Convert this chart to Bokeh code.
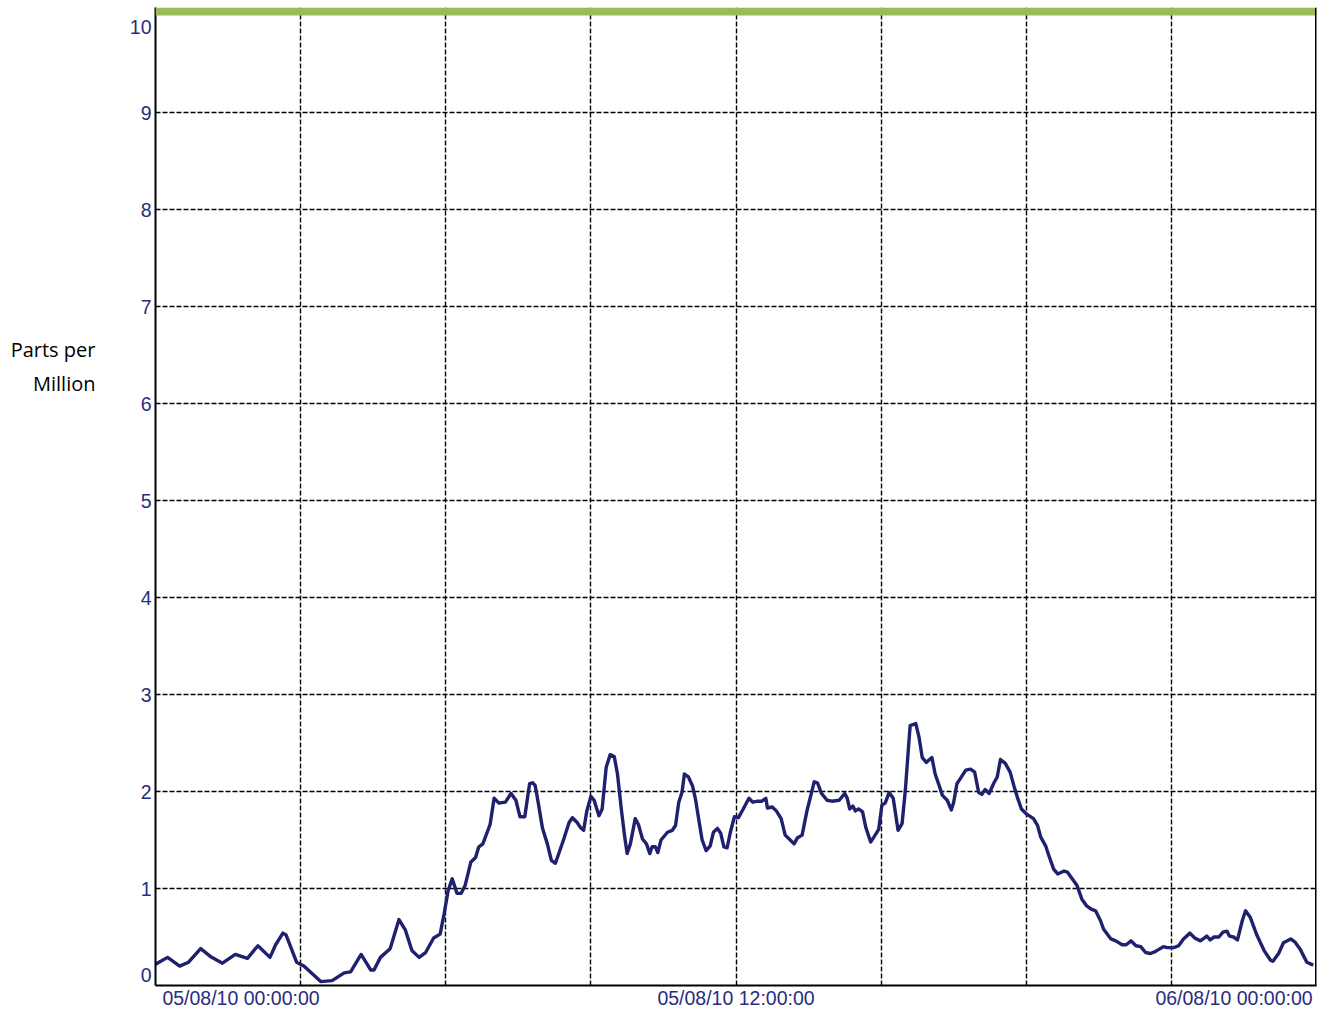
from datetime import datetime, timedelta
from bokeh.plotting import figure
from bokeh.models import (Range1d, FixedTicker, Span, BoxAnnotation, ColumnDataSource,
                          LinearAxis, CustomJSTickFormatter)
from bokeh.embed import file_html
from bokeh.resources import INLINE

# ---- data (minutes after 05/08/10 00:00:00, parts per million) ----
minutes = [
    0, 15, 30, 41, 56, 68, 83, 99, 114, 127,
    142, 149, 158, 162, 175, 184, 205, 219, 234, 242,
    255, 267, 271, 279, 291, 302, 310, 318, 327, 335,
    345, 353, 358, 363, 368, 374, 379, 384, 391, 397,
    401, 406, 415, 420, 426, 434, 441, 447, 452, 458,
    464, 468, 471, 475, 480, 486, 491, 496, 506, 513,
    517, 523, 527, 531, 535, 540, 544, 550, 554, 559,
    564, 569, 573, 578, 582, 585, 589, 595, 599, 604,
    609, 613, 616, 620, 623, 627, 635, 641, 645, 649,
    653, 656, 661, 666, 670, 674, 678, 683, 688, 692,
    697, 701, 705, 709, 713, 718, 723, 729, 736, 741,
    747, 752, 757, 759, 765, 770, 776, 781, 786, 792,
    796, 802, 808, 817, 821, 826, 833, 839, 848, 855,
    858, 861, 865, 868, 872, 877, 881, 887, 891, 897,
    901, 905, 910, 915, 921, 926, 930, 934, 936, 943,
    947, 951, 956, 963, 967, 972, 976, 982, 987, 990,
    994, 998, 1005, 1011, 1016, 1021, 1025, 1029, 1034, 1040,
    1044, 1048, 1054, 1060, 1065, 1069, 1074, 1080, 1089, 1094,
    1098, 1104, 1108, 1114, 1119, 1127, 1131, 1137, 1143, 1149,
    1155, 1160, 1166, 1172, 1176, 1185, 1191, 1199, 1204, 1210,
    1216, 1222, 1228, 1234, 1240, 1244, 1250, 1255, 1263, 1269,
    1275, 1283, 1289, 1296, 1304, 1308, 1313, 1319, 1324, 1329,
    1332, 1337, 1342, 1348, 1352, 1358, 1366, 1375, 1383, 1386,
    1393, 1399, 1408, 1413, 1420, 1428, 1436,
]
ppm = [
    0.22, 0.29, 0.20, 0.24, 0.38, 0.30, 0.23, 0.32, 0.28, 0.41,
    0.29, 0.42, 0.54, 0.52, 0.24, 0.20, 0.04, 0.05, 0.13, 0.14,
    0.32, 0.16, 0.16, 0.29, 0.38, 0.68, 0.57, 0.36, 0.29, 0.34,
    0.49, 0.53, 0.74, 0.98, 1.10, 0.95, 0.95, 1.03, 1.27, 1.32,
    1.43, 1.46, 1.66, 1.93, 1.88, 1.89, 1.98, 1.91, 1.74, 1.74,
    2.08, 2.09, 2.06, 1.87, 1.62, 1.46, 1.29, 1.26, 1.50, 1.68,
    1.73, 1.68, 1.63, 1.60, 1.80, 1.95, 1.91, 1.75, 1.82, 2.25,
    2.38, 2.36, 2.18, 1.80, 1.53, 1.36, 1.46, 1.72, 1.66, 1.51,
    1.46, 1.36, 1.43, 1.43, 1.37, 1.50, 1.58, 1.60, 1.65, 1.89,
    1.99, 2.18, 2.15, 2.06, 1.91, 1.70, 1.50, 1.39, 1.44, 1.58,
    1.62, 1.57, 1.43, 1.42, 1.58, 1.74, 1.73, 1.82, 1.93, 1.89,
    1.90, 1.90, 1.93, 1.83, 1.84, 1.80, 1.72, 1.55, 1.51, 1.46,
    1.52, 1.55, 1.80, 2.10, 2.09, 1.98, 1.91, 1.90, 1.91, 1.98,
    1.93, 1.82, 1.85, 1.80, 1.82, 1.79, 1.63, 1.48, 1.53, 1.61,
    1.86, 1.88, 1.99, 1.93, 1.60, 1.67, 2.01, 2.46, 2.68, 2.70,
    2.56, 2.35, 2.30, 2.35, 2.18, 2.06, 1.96, 1.91, 1.81, 1.89,
    2.08, 2.13, 2.22, 2.23, 2.20, 1.99, 1.97, 2.02, 1.98, 2.09,
    2.15, 2.33, 2.29, 2.20, 2.05, 1.94, 1.82, 1.77, 1.72, 1.65,
    1.53, 1.44, 1.34, 1.20, 1.15, 1.18, 1.17, 1.10, 1.03, 0.89,
    0.82, 0.79, 0.77, 0.67, 0.58, 0.48, 0.46, 0.42, 0.42, 0.46,
    0.41, 0.40, 0.34, 0.33, 0.35, 0.37, 0.40, 0.39, 0.39, 0.41,
    0.48, 0.54, 0.49, 0.46, 0.51, 0.47, 0.50, 0.50, 0.55, 0.56,
    0.51, 0.50, 0.47, 0.67, 0.77, 0.70, 0.52, 0.36, 0.26, 0.25,
    0.33, 0.44, 0.48, 0.45, 0.37, 0.24, 0.21,
]
y_values = [0, 1, 2, 3, 4, 5, 6, 7, 8, 9, 10]
y_labels = ["0", "1", "2", "3", "4", "5", "6", "7", "8", "9", "10"]
grid_y = [1, 2, 3, 4, 5, 6, 7, 8, 9]
grid_hours = [3, 6, 9, 12, 15, 18, 21]
x_labels = ["05/08/10 00:00:00", "05/08/10 12:00:00", "06/08/10 00:00:00"]
y_title = ["Parts per", "Million"]

# ---- layout / style constants ----
W, H = 1321, 1012
BORDER_L, BORDER_R, BORDER_T, BORDER_B = 155, 5, 7, 27
FRAME_W = W - BORDER_L - BORDER_R
FRAME_H = H - BORDER_T - BORDER_B
PX_PER_UNIT = 97.0
Y_END = FRAME_H / PX_PER_UNIT          # a little above 10, for the green band
PX_PER_HOUR = FRAME_W / 24.0
XLABEL_W = 157.0                        # rendered width of one date label
EDGE_SHIFT = 11.0                       # "0" and "10" are nudged inside the frame
TITLE_ROWS_PX = [349, 383]              # vertical centres of the two title lines

NAVY = "#1f206e"
TICK_NAVY = "#2a2c80"
GREEN = "#9bbb59"
TICK_FONT = "Liberation Sans"
TICK_SIZE = "19.5px"

start = datetime(2010, 8, 5)
epoch = datetime(1970, 1, 1)


def ms(dt):
    return (dt - epoch).total_seconds() * 1000.0


def hours_ms(h):
    return ms(start + timedelta(hours=h))


times = [start + timedelta(minutes=m) for m in minutes]
src = ColumnDataSource(dict(t=times, v=ppm))
t0, t_end = hours_ms(0), hours_ms(24)

# label anchor positions: first label left-aligned, middle centred, last right-aligned
half = XLABEL_W / 2.0
x_anchor_h = [(7 + half) / PX_PER_HOUR, 12.0, 24.0 - (4 + half) / PX_PER_HOUR]
x_anchor = [hours_ms(h) for h in x_anchor_h]

y_anchor = list(y_values)
y_anchor[0] = y_values[0] + EDGE_SHIFT / PX_PER_UNIT
y_anchor[-1] = y_values[-1] - EDGE_SHIFT / PX_PER_UNIT

title_anchor = [(FRAME_H - (r - BORDER_T)) / PX_PER_UNIT for r in TITLE_ROWS_PX]

LOOKUP = """
let best = 0, d = Infinity;
for (let i = 0; i < vals.length; i++) {
  const e = Math.abs(vals[i] - tick);
  if (e < d) { d = e; best = i; }
}
return labels[best];
"""

p = figure(
    width=W, height=H,
    x_axis_type="datetime",
    x_range=Range1d(t0, t_end),
    y_range=Range1d(0, Y_END),
    output_backend="svg", toolbar_location=None,
    min_border_left=BORDER_L, min_border_right=BORDER_R,
    min_border_top=BORDER_T, min_border_bottom=BORDER_B,
)
p.outline_line_color = None
p.background_fill_color = "white"
p.border_fill_color = "white"

# x axis
xa = p.xaxis[0]
xa.ticker = FixedTicker(ticks=x_anchor)
xa.formatter = CustomJSTickFormatter(args=dict(vals=x_anchor, labels=x_labels), code=LOOKUP)
xa.major_label_standoff = 1
xa.major_label_text_color = TICK_NAVY
xa.major_label_text_font = TICK_FONT
xa.major_label_text_font_size = TICK_SIZE

# y axis
ya = p.yaxis[0]
ya.ticker = FixedTicker(ticks=y_anchor)
ya.formatter = CustomJSTickFormatter(args=dict(vals=y_anchor, labels=y_labels), code=LOOKUP)
ya.major_label_standoff = 4
ya.major_label_text_color = TICK_NAVY
ya.major_label_text_font = TICK_FONT
ya.major_label_text_font_size = TICK_SIZE

for ax in (xa, ya):
    ax.axis_line_color = "black"
    ax.axis_line_width = 2
    ax.major_tick_line_color = None
    ax.minor_tick_line_color = None
    ax.major_tick_out = 0
    ax.major_tick_in = 0

# horizontal axis title, carried by a second left axis
ta = LinearAxis(
    ticker=FixedTicker(ticks=title_anchor),
    formatter=CustomJSTickFormatter(args=dict(vals=title_anchor, labels=y_title), code=LOOKUP),
    axis_line_color=None, major_tick_line_color=None, minor_tick_line_color=None,
    major_tick_out=0, major_tick_in=0, major_label_standoff=31,
    major_label_text_color="black", major_label_text_font="Open Sans",
    major_label_text_font_size="20px",
)
p.add_layout(ta, "left")

# grids
p.xgrid.ticker = FixedTicker(ticks=[hours_ms(h) for h in grid_hours])
p.ygrid.ticker = FixedTicker(ticks=grid_y)
for g in (p.xgrid[0], p.ygrid[0]):
    g.grid_line_color = "black"
    g.grid_line_width = 1.4
    g.grid_line_dash = "5 2"

# green top band and right border
p.add_layout(BoxAnnotation(bottom=10, fill_color=GREEN, fill_alpha=1.0, line_color=None))
p.add_layout(Span(location=t_end, dimension="height", line_color="black", line_width=3))

# data line
p.line(x="t", y="v", source=src, line_color=NAVY, line_width=3.4, line_join="round")

open("out.html", "w").write(file_html(p, INLINE))
